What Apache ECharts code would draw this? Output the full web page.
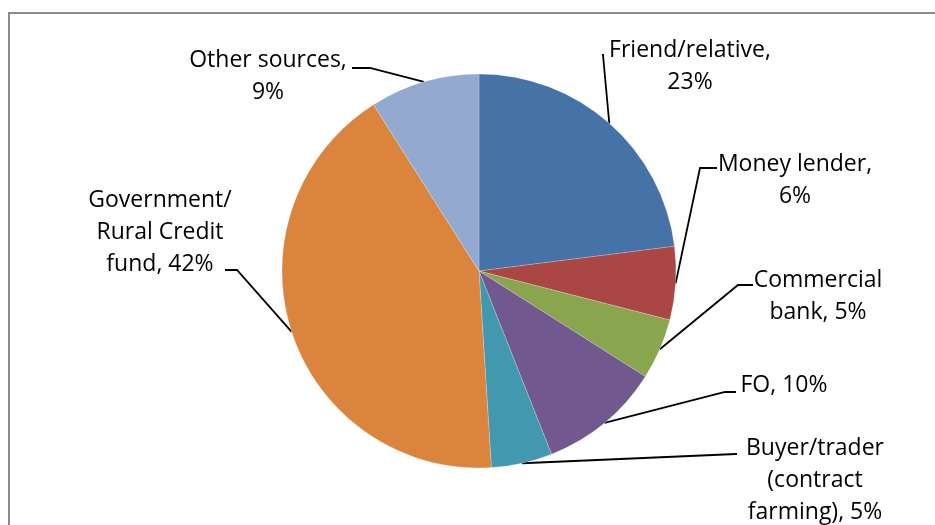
<!DOCTYPE html>
<html>
<head>
<meta charset="utf-8">
<script src="https://cdn.jsdelivr.net/npm/echarts@6/dist/echarts.min.js"></script>
<style>
  html, body { margin: 0; padding: 0; background: #fff; }
  #chart { width: 935px; height: 525px; }
</style>
</head>
<body>
<div id="chart"></div>
<script>
// Sources of credit, share of borrowers (%)
const categories = [
  'Friend/relative',
  'Money lender',
  'Commercial\nbank',
  'FO',
  'Buyer/trader\n(contract\nfarming)',
  'Government/\nRural Credit\nfund',
  'Other sources'
];
const shares = [23, 6, 5, 10, 5, 42, 9];
const colors = ['#4572A7', '#AA4643', '#89A54E', '#71588F', '#4198AF', '#DB843D', '#93A9CF'];

// label block centres (px) and whether the value drops to its own line
const labelCentres = [
  [690, 66], [795, 180], [818, 296], [784, 385], [815, 480], [160, 232], [268, 76]
];
const valueOnOwnLine = [true, true, false, false, false, false, true];
// where each leader line meets its label: elbow point, then end of the short tail
const leaderEnds = [
  [[603, 55], [604, 55]],
  [[700, 168], [717, 168]],
  [[738, 285], [753, 285]],
  [[725, 392], [736, 392]],
  [[736, 454], [737, 454]],
  [[237, 270], [225, 270]],
  [[370, 68], [352, 68]]
];

const chart = echarts.init(document.getElementById('chart'), null, { renderer: 'canvas' });

chart.setOption({
  animation: false,
  backgroundColor: '#fff',
  graphic: [{
    type: 'rect',
    shape: { x: 9, y: 13, width: 1000, height: 1000 },
    style: { fill: 'none', stroke: '#8a8a8a', lineWidth: 2 },
    silent: true
  }],
  series: [{
    type: 'pie',
    center: [479, 271],
    radius: 197,
    startAngle: 90,
    clockwise: true,
    data: categories.map((name, i) => ({
      name: name,
      value: shares[i],
      itemStyle: { color: colors[i] }
    })),
    itemStyle: { borderColor: 'rgba(255,255,255,0.35)', borderWidth: 0.6 },
    label: {
      show: true,
      color: '#000',
      fontFamily: '"Open Sans", sans-serif',
      fontSize: 23,
      lineHeight: 32,
      align: 'center',
      formatter: (p) => p.name + ',' + (valueOnOwnLine[p.dataIndex] ? '\n' : ' ') + p.value + '%'
    },
    labelLine: {
      show: true,
      length: 10,
      length2: 12,
      lineStyle: { color: '#000', width: 1.8 }
    },
    labelLayout: (params) => {
      const i = params.dataIndex;
      const c = labelCentres[i];
      const out = { x: c[0], y: c[1], align: 'center', verticalAlign: 'middle' };
      if (params.labelLinePoints && params.labelLinePoints.length) {
        // keep the library's anchor on the slice edge
        out.labelLinePoints = [params.labelLinePoints[0], leaderEnds[i][0], leaderEnds[i][1]];
      }
      return out;
    },
    emphasis: { disabled: true }
  }]
});
</script>
</body>
</html>
